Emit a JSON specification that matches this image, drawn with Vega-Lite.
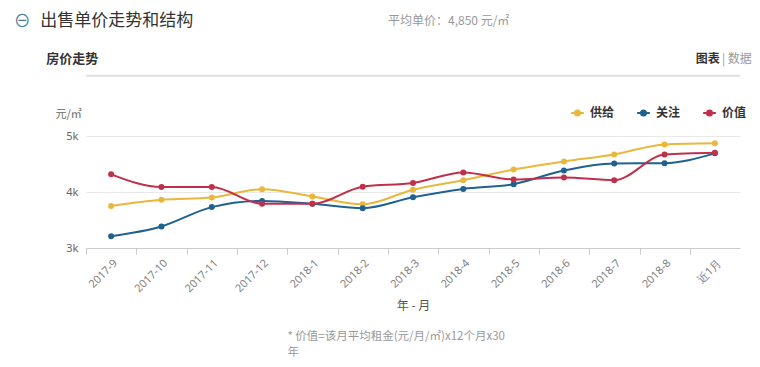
{
  "$schema": "https://vega.github.io/schema/vega-lite/v6.json",
  "width": 654,
  "height": 112,
  "autosize": "none",
  "padding": {"left": 86, "top": 136, "right": 20, "bottom": 119},
  "background": "white",
  "config": {
    "font": "Noto Sans CJK SC",
    "view": {"stroke": null},
    "legend": {"labelFont": "Noto Sans CJK SC"}
  },
  "layer": [
    {
      "data": {
        "values": [
          {"month": "2017-9", "series": "供给", "value": 3750},
          {"month": "2017-10", "series": "供给", "value": 3860},
          {"month": "2017-11", "series": "供给", "value": 3900},
          {"month": "2017-12", "series": "供给", "value": 4050},
          {"month": "2018-1", "series": "供给", "value": 3920},
          {"month": "2018-2", "series": "供给", "value": 3780},
          {"month": "2018-3", "series": "供给", "value": 4040},
          {"month": "2018-4", "series": "供给", "value": 4210},
          {"month": "2018-5", "series": "供给", "value": 4400},
          {"month": "2018-6", "series": "供给", "value": 4545},
          {"month": "2018-7", "series": "供给", "value": 4670},
          {"month": "2018-8", "series": "供给", "value": 4850},
          {"month": "近1月", "series": "供给", "value": 4870},
          {"month": "2017-9", "series": "关注", "value": 3210},
          {"month": "2017-10", "series": "关注", "value": 3385},
          {"month": "2017-11", "series": "关注", "value": 3730},
          {"month": "2017-12", "series": "关注", "value": 3840},
          {"month": "2018-1", "series": "关注", "value": 3790},
          {"month": "2018-2", "series": "关注", "value": 3710},
          {"month": "2018-3", "series": "关注", "value": 3905},
          {"month": "2018-4", "series": "关注", "value": 4055},
          {"month": "2018-5", "series": "关注", "value": 4140},
          {"month": "2018-6", "series": "关注", "value": 4385},
          {"month": "2018-7", "series": "关注", "value": 4510},
          {"month": "2018-8", "series": "关注", "value": 4515},
          {"month": "近1月", "series": "关注", "value": 4690},
          {"month": "2017-9", "series": "价值", "value": 4315},
          {"month": "2017-10", "series": "价值", "value": 4090},
          {"month": "2017-11", "series": "价值", "value": 4090},
          {"month": "2017-12", "series": "价值", "value": 3790},
          {"month": "2018-1", "series": "价值", "value": 3790},
          {"month": "2018-2", "series": "价值", "value": 4095},
          {"month": "2018-3", "series": "价值", "value": 4160},
          {"month": "2018-4", "series": "价值", "value": 4350},
          {"month": "2018-5", "series": "价值", "value": 4225},
          {"month": "2018-6", "series": "价值", "value": 4260},
          {"month": "2018-7", "series": "价值", "value": 4210},
          {"month": "2018-8", "series": "价值", "value": 4670},
          {"month": "近1月", "series": "价值", "value": 4700}
        ]
      },
      "encoding": {
        "x": {
          "field": "month",
          "type": "ordinal",
          "scale": {
            "type": "point",
            "padding": 0.5,
            "domain": ["2017-9", "2017-10", "2017-11", "2017-12", "2018-1", "2018-2", "2018-3", "2018-4", "2018-5", "2018-6", "2018-7", "2018-8", "近1月"]
          },
          "axis": {
            "title": "年 - 月",
            "titleFontSize": 12,
            "titleFontWeight": "normal",
            "titleColor": "#555555",
            "titlePadding": 7,
            "labelAngle": -45,
            "labelFont": "Noto Sans",
            "labelFontSize": 11,
            "labelColor": "#808080",
            "labelPadding": 3,
            "tickOffset": -25,
            "labelOffset": 25,
            "tickSize": 6,
            "tickColor": "#cccccc",
            "domainColor": "#cccccc",
            "grid": false
          }
        },
        "y": {
          "field": "value",
          "type": "quantitative",
          "scale": {"domain": [3000, 5000], "zero": false, "nice": false},
          "axis": {
            "values": [3000, 4000, 5000],
            "format": "~s",
            "title": "元/㎡",
            "titleAngle": 0,
            "titleAlign": "left",
            "titleBaseline": "middle",
            "titleX": -31,
            "titleY": -22,
            "titleFontSize": 11,
            "titleFontWeight": "normal",
            "titleColor": "#666666",
            "labelFont": "Noto Sans",
            "labelFontSize": 11,
            "labelColor": "#666666",
            "labelPadding": 8,
            "ticks": false,
            "domain": false,
            "grid": true,
            "gridColor": "#e8e8e8"
          }
        },
        "color": {
          "field": "series",
          "type": "nominal",
          "scale": {
            "domain": ["供给", "关注", "价值"],
            "range": ["#e8b83c", "#1f6190", "#c1304b"]
          },
          "legend": {
            "title": null,
            "orient": "none",
            "legendX": 484,
            "legendY": -31,
            "direction": "horizontal",
            "labelFontSize": 12,
            "labelColor": "#333333",
            "labelFontWeight": "bold",
            "labelOffset": 5,
            "columnPadding": 18,
            "symbolType": "M-1,0L1,0M-0.4,0A0.4,0.4,0,1,1,0.4,0A0.4,0.4,0,1,1,-0.4,0Z",
            "symbolSize": 160,
            "symbolStrokeWidth": 2
          }
        }
      },
      "layer": [
        {"mark": {"type": "line", "interpolate": "monotone", "strokeWidth": 2}},
        {"mark": {"type": "point", "filled": true, "size": 36, "opacity": 1}}
      ]
    },
    {
      "data": {"values": [{"t": "出售单价走势和结构"}]},
      "mark": {"type": "text", "align": "left", "baseline": "middle", "fontSize": 17, "color": "#333333", "dx": -71},
      "encoding": {
        "x": {"datum": "2017-9", "type": "ordinal"},
        "y": {"datum": 7055, "type": "quantitative"},
        "text": {"field": "t"}
      }
    },
    {
      "data": {"values": [{"t": "房价走势"}]},
      "mark": {"type": "text", "align": "left", "baseline": "middle", "fontSize": 13, "fontWeight": "bold", "color": "#333333", "dx": -65},
      "encoding": {
        "x": {"datum": "2017-9", "type": "ordinal"},
        "y": {"datum": 6380, "type": "quantitative"},
        "text": {"field": "t"}
      }
    },
    {
      "data": {"values": [{"t": "平均单价：4,850 元/㎡"}]},
      "mark": {"type": "text", "align": "left", "baseline": "middle", "fontSize": 12, "color": "#999999", "dx": -25},
      "encoding": {
        "x": {"datum": "2018-3", "type": "ordinal"},
        "y": {"datum": 7055, "type": "quantitative"},
        "text": {"field": "t"}
      }
    },
    {
      "data": {"values": [{"t": "| 数据"}]},
      "mark": {"type": "text", "align": "right", "baseline": "middle", "fontSize": 12, "color": "#999999", "dx": 37},
      "encoding": {
        "x": {"datum": "近1月", "type": "ordinal"},
        "y": {"datum": 6380, "type": "quantitative"},
        "text": {"field": "t"}
      }
    },
    {
      "data": {"values": [{"t": "图表"}]},
      "mark": {"type": "text", "align": "right", "baseline": "middle", "fontSize": 12, "fontWeight": "bold", "color": "#333333", "dx": 5},
      "encoding": {
        "x": {"datum": "近1月", "type": "ordinal"},
        "y": {"datum": 6380, "type": "quantitative"},
        "text": {"field": "t"}
      }
    },
    {
      "data": {"values": [{"t": "* 价值=该月平均租金(元/月/㎡)x12个月x30"}]},
      "mark": {"type": "text", "align": "left", "baseline": "middle", "fontSize": 11.5, "color": "#999999", "dx": -25},
      "encoding": {
        "x": {"datum": "2018-1", "type": "ordinal"},
        "y": {"datum": 1407, "type": "quantitative"},
        "text": {"field": "t"}
      }
    },
    {
      "data": {"values": [{"t": "年"}]},
      "mark": {"type": "text", "align": "left", "baseline": "middle", "fontSize": 11.5, "color": "#999999", "dx": -25},
      "encoding": {
        "x": {"datum": "2018-1", "type": "ordinal"},
        "y": {"datum": 1123, "type": "quantitative"},
        "text": {"field": "t"}
      }
    },
    {
      "data": {"values": [{"t": "⊖"}]},
      "mark": {"type": "text", "align": "center", "baseline": "middle", "fontSize": 17, "fontFamily": "DejaVu Sans", "color": "#4a7d9c", "dx": -89, "dy": 1},
      "encoding": {
        "x": {"datum": "2017-9", "type": "ordinal"},
        "y": {"datum": 7055, "type": "quantitative"},
        "text": {"field": "t"}
      }
    },
    {
      "data": {"values": [{"t": "line"}]},
      "mark": {"type": "rule", "color": "#e0e0e0", "strokeWidth": 2},
      "encoding": {
        "y": {"datum": 6078, "type": "quantitative"}
      }
    }
  ]
}
